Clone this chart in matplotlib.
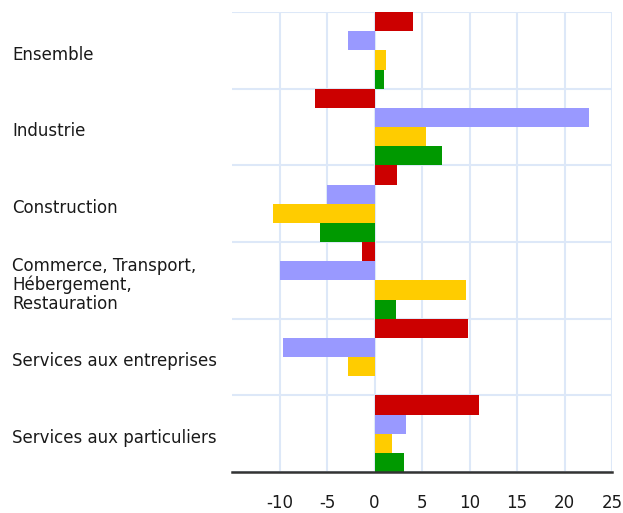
import matplotlib
matplotlib.use("Agg")
import matplotlib.pyplot as plt
import numpy as np

categories = ["Ensemble", "Industrie", "Construction",
              "Commerce, Transport,\nHébergement,\nRestauration",
              "Services aux entreprises", "Services aux particuliers"]
series_red = [4.0, -6.3, 2.4, -1.3, 9.8, 11.05]
series_lavender = [-2.75, 22.6, -5.05, -9.9, -9.65, 3.3]
series_yellow = [1.2, 5.4, -10.7, 9.6, -2.75, 1.8]
series_green = [1.0, 7.1, -5.7, 2.3, 0.1, 3.1]
xticks = [-10, -5, 0, 5, 10, 15, 20, 25]
xticklabels = ["-10", "-5", "0", "5", "10", "15", "20", "25"]

colors = ["#cc0000", "#9999ff", "#ffcc00", "#009900"]
plt.rcParams["font.family"] = ["DejaVu Sans"]
plt.rcParams["axes.unicode_minus"] = False

fig = plt.figure(figsize=(6.23, 5.13), dpi=100)
ax = fig.add_axes([232/623, 1-472/513, (612-232)/623, (472-12)/513])

y = np.arange(len(categories))
h = 0.25
for k, (vals, c) in enumerate(zip([series_red, series_lavender, series_yellow, series_green], colors)):
    ax.barh(y - 0.375 + k*h, vals, height=h, color=c, zorder=3, linewidth=0)

ax.set_xlim(-15, 25)
ax.set_ylim(len(categories)-0.5, -0.5)
ax.set_xticks(xticks)
ax.set_xticklabels(xticklabels, fontsize=12, color="#1a1a1a")
ax.set_yticks(y + 0.03)
ax.set_yticklabels(categories, fontsize=12, color="#1a1a1a", ha="left", multialignment="left",
                   linespacing=1.05)
ax.set_yticks(np.arange(len(categories)+1) - 0.5, minor=True)
ax.tick_params(axis="y", which="both", length=0, pad=220*0.72)
ax.tick_params(axis="x", length=0, pad=15.5)
ax.grid(True, axis="x", color="#dde8f8", linewidth=1.5, zorder=0)
ax.grid(True, axis="y", which="minor", color="#dde8f8", linewidth=1.5, zorder=0)
ax.grid(False, axis="y", which="major")
for s in ["left", "right", "top"]:
    ax.spines[s].set_visible(False)
ax.spines["bottom"].set_color("#333333")
ax.spines["bottom"].set_linewidth(1.8)
ax.spines["bottom"].set_zorder(4)

fig.savefig("out.png", dpi=100)
